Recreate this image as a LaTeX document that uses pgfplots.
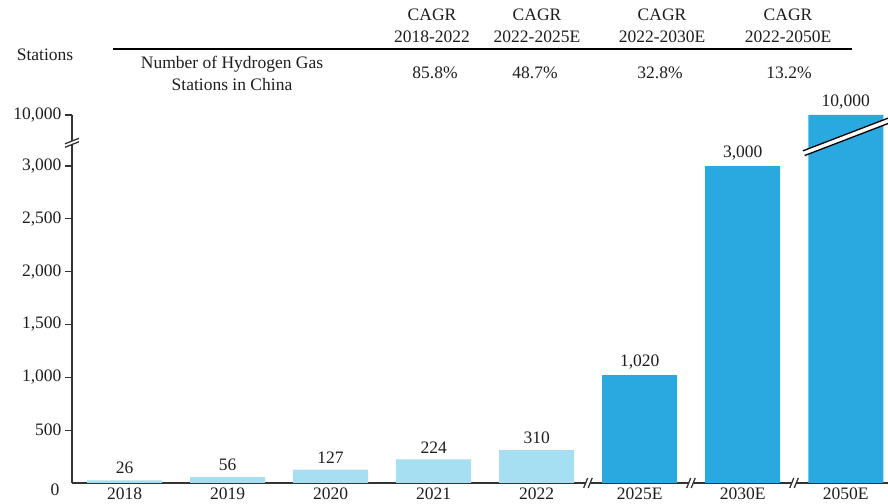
\documentclass[border=0pt]{standalone}
\usepackage{pgfplots}
\pgfplotsset{compat=1.18}
\usepackage{pgfplotstable}
\usepackage{fontspec}
\setmainfont{Liberation Serif}

\definecolor{lightbar}{HTML}{A6DEF2}
\definecolor{darkbar}{HTML}{29A9E0}
\definecolor{axisgray}{HTML}{333333}
\definecolor{txt}{HTML}{1E1E1E}

% 2050E is drawn at 3483 on the broken scale, labelled 10,000
\pgfplotstableread{
x y label
0 26 26
1 56 56
2 127 127
3 224 224
4 310 310
}\actual
\pgfplotstableread{
x y label
5 1020 1,020
6 3000 3,000
7 3483 10,000
}\forecast

\begin{document}
\begin{tikzpicture}[x=1pt,y=1pt,font=\fontsize{17.5}{22}\selectfont,text=txt]
\path[use as bounding box] (0,0) rectangle (888,503);
\begin{axis}[
  at={(72pt,20pt)}, anchor=south west,
  scale only axis, width=816pt, height=368pt,
  xmin=-0.51, xmax=7.41, ymin=0, ymax=3483,
  axis lines=left,
  axis line style={-, axisgray, line width=1.3pt},
  xtick={0,...,7},
  xticklabels={2018,2019,2020,2021,2022,2025E,2030E,2050E},
  xtick style={draw=none},
  ytick={500,1000,1500,2000,2500,3000,3483},
  yticklabels={500,{1,000},{1,500},{2,000},{2,500},{3,000},{10,000}},
  extra y ticks={0}, extra y tick labels={0},
  extra y tick style={major tick length=0pt, yticklabel style={yshift=-7pt, xshift=-9pt}},
  ytick style={axisgray, line width=1.2pt},
  major tick length=7pt, tick align=outside,
  ticklabel style={font=\fontsize{17.5}{18}\selectfont, text=txt},
  xticklabel style={yshift=6pt},
  enlargelimits=false,
  clip=false,
  bar width=0.728, bar shift=0pt,
  nodes near coords, point meta=explicit symbolic,
  nodes near coords style={font=\fontsize{17.5}{18}\selectfont, text=txt, anchor=south, inner sep=2pt, yshift=4pt},
]
\addplot[ybar, fill=lightbar, draw=none] table[x=x, y=y, meta=label] {\actual};
\addplot[ybar, fill=darkbar, draw=none] table[x=x, y=y, meta=label] {\forecast};
\coordinate (yb) at (axis cs:-0.51,3220);
\coordinate (xb1) at (axis cs:4.5,0);
\coordinate (xb2) at (axis cs:5.5,0);
\coordinate (xb3) at (axis cs:6.5,0);
\coordinate (bb) at (axis cs:7,3274);
\end{axis}

% break on the y axis
\begin{scope}[shift={(yb)}]
  \fill[white] (-7,-4.5) -- (7,1) -- (7,4.5) -- (-7,-1) -- cycle;
  \draw[axisgray, line width=1.3pt] (-7,-4.5) -- (7,1) (-7,-1) -- (7,4.5);
\end{scope}
% breaks on the x axis
\foreach \c in {xb1,xb2,xb3}{
  \begin{scope}[shift={(\c)}]
    \fill[white] (-4.5,-5) -- (-0.5,5) -- (4,5) -- (0,-5) -- cycle;
    \draw[axisgray, line width=1.3pt] (-4.5,-5) -- (-0.5,5) (0,-5) -- (4,5);
  \end{scope}
}
% break through the 2050E bar
\begin{scope}[shift={(bb)}, rotate=21]
  \fill[white] (-45,-2.5) rectangle (50,2.5);
  \draw[black, line width=1.3pt] (-45,-2.5) -- (50,-2.5) (-45,2.5) -- (50,2.5);
\end{scope}

% table above the chart
\node at (45,448) {Stations};
\draw[black, line width=1.1pt] (113,454) -- (852,454);
\node[align=center] at (232,430) {Number of Hydrogen Gas\\Stations in China};
\node[align=center] at (432,477) {CAGR\\2018-2022};
\node[align=center] at (537,477) {CAGR\\2022-2025E};
\node[align=center] at (662,477) {CAGR\\2022-2030E};
\node[align=center] at (788,477) {CAGR\\2022-2050E};
\node at (435,430) {85.8\%};
\node at (535,430) {48.7\%};
\node at (660,430) {32.8\%};
\node at (789,430) {13.2\%};
\end{tikzpicture}
\end{document}
